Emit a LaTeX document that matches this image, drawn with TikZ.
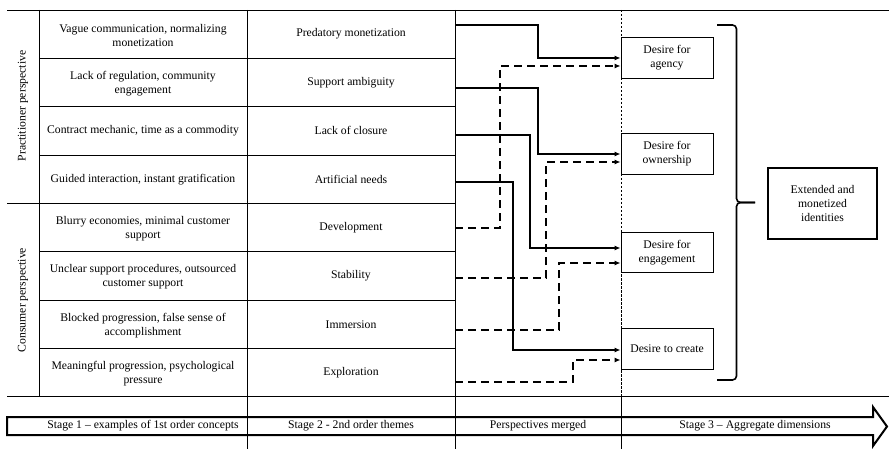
\documentclass[tikz,border=0pt]{standalone}
\usepackage{fontspec}
\setmainfont{Liberation Serif}
\usetikzlibrary{arrows.meta}

\begin{document}
\begin{tikzpicture}[x=1pt, y=-1pt,
    every node/.style={font=\fontsize{11.7}{14}\selectfont, align=center},
    concept/.style={minimum width=208pt, minimum height=48.3pt, inner sep=0pt},
    desire/.style={draw, line width=0.8pt, minimum width=92pt, minimum height=40.5pt, inner sep=0pt},
    gridline/.style={line width=0.8pt},
    solidflow/.style={line width=1.6pt, -{Latex[length=6pt,width=5pt]}},
    dashflow/.style={solidflow, dash pattern=on 8pt off 5pt}]
    \useasboundingbox (0,0) rectangle (889,449);

    % table lines
    \draw[gridline] (7,10) -- (889,10);
    \draw[gridline] (7,396.7) -- (889,396.7);
    \foreach \i in {1,2,3,5,6,7}
        \draw[gridline] (39,{10+48.33*\i}) -- (455,{10+48.33*\i});
    \draw[gridline] (7,203.3) -- (455,203.3);
    \draw[gridline] (39,10) -- (39,396.7);
    \draw[gridline] (247,10) -- (247,449);
    \draw[gridline] (455,10) -- (455,449);
    \draw[gridline, line width=0.7pt, dash pattern=on 2.5pt off 1.5pt] (621,10) -- (621,396.7);
    \draw[gridline] (621,396.7) -- (621,449);

    % perspectives
    \node[rotate=90] (prac) at (23,106) {Practitioner perspective};
    \node[rotate=90] (cons) at (23,300) {Consumer perspective};

    % first order concepts
    \node[concept] (v1) at (143,35.5) {Vague communication, normalizing\\monetization};
    \node[concept] (v2) at (143,83.8) {Lack of regulation, community\\engagement};
    \node[concept] (v3) at (143,130.8) {Contract mechanic, time as a commodity};
    \node[concept] (v4) at (143,179.2) {Guided interaction, instant gratification};
    \node[concept] (v5) at (143,228.8) {Blurry economies, minimal customer\\support};
    \node[concept] (v6) at (143,277.1) {Unclear support procedures, outsourced\\customer support};
    \node[concept] (v7) at (143,325.5) {Blocked progression, false sense of\\accomplishment};
    \node[concept] (v8) at (143,373.8) {Meaningful progression, psychological\\pressure};

    % second order themes
    \node[concept] (pm) at (351,34.2) {Predatory monetization};
    \node[concept] (sa) at (351,82.5) {Support ambiguity};
    \node[concept] (lc) at (351,130.8) {Lack of closure};
    \node[concept] (an) at (351,179.2) {Artificial needs};
    \node[concept] (dv) at (351,227.5) {Development};
    \node[concept] (st) at (351,275.8) {Stability};
    \node[concept] (im) at (351,324.2) {Immersion};
    \node[concept] (ex) at (351,372.5) {Exploration};

    % aggregate dimensions
    \node[desire] (agency) at (667,58) {Desire for\\agency};
    \node[desire] (owner) at (667,154) {Desire for\\ownership};
    \node[desire] (engage) at (667,252.5) {Desire for\\engagement};
    \node[desire] (create) at (667,349) {Desire to create};
    \node[draw, line width=1.8pt, minimum width=109pt, minimum height=71pt] (ident) at (822.5,203.5) {Extended and\\monetized\\identities};

    % brace
    \draw[line width=1.6pt, rounded corners=4pt] (717,25) -| (736.5,202.5) -- (755,202.5);
    \draw[line width=1.6pt, rounded corners=4pt] (717,380) -| (736.5,202.5) -- (755,202.5);

    % merging
    \draw[solidflow] ([yshift=9.2pt]pm.east) -- ++(83,0) |- (agency.west);
    \draw[solidflow] ([yshift=-5.5pt]sa.east) -- ++(83,0) |- (owner.west);
    \draw[solidflow] ([yshift=-4.2pt]lc.east) -- ++(75,0) |- ([yshift=4.5pt]engage.west);
    \draw[solidflow] ([yshift=-2.8pt]an.east) -- ++(58,0) |- ([yshift=-1pt]create.west);
    \draw[dashflow] ([yshift=-0.5pt]dv.east) -- ++(45,0) |- ([yshift=-8pt]agency.west);
    \draw[dashflow] ([yshift=-2.2pt]st.east) -- ++(91,0) |- ([yshift=-8pt]owner.west);
    \draw[dashflow] ([yshift=-5.8pt]im.east) -- ++(104,0) |- ([yshift=-10.5pt]engage.west);
    \draw[dashflow] ([yshift=-9.5pt]ex.east) -- ++(118,0) |- ([yshift=-11pt]create.west);

    % stages arrow
    \draw[line width=2pt, line join=miter] (7,417) -- (873,417) -- (873,407) -- (887,426.5)
        -- (873,446) -- (873,435) -- (7,435) -- cycle;
    \node (s1) at (143,426) {Stage 1 – examples of 1st order concepts};
    \node (s2) at (351,426) {Stage 2 - 2nd order themes};
    \node (s3) at (538,426) {Perspectives merged};
    \node (s4) at (755,426) {Stage 3 – Aggregate dimensions};
\end{tikzpicture}
\end{document}
